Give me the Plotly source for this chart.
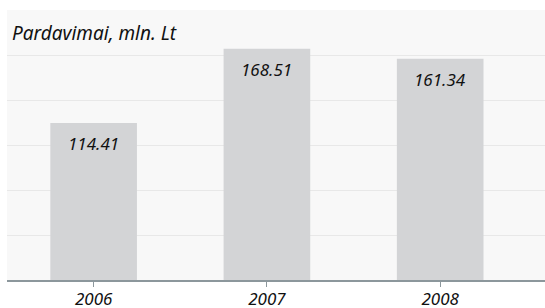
import plotly.graph_objects as go

years = ["2006", "2007", "2008"]
sales = [114.41, 168.51, 161.34]
labels = ["114.41", "168.51", "161.34"]
title_text = "Pardavimai, mln. Lt"

FONT = "Noto Sans"

fig = go.Figure()
fig.add_trace(go.Bar(
    x=years, y=sales, width=0.5,
    marker=dict(color="#d3d4d6", line=dict(width=0)),
    hoverinfo="skip",
))

for i, (v, t) in enumerate(zip(sales, labels)):
    fig.add_annotation(x=i, y=v, text=f"<i>{t}</i>", showarrow=False,
                       yanchor="top", yshift=-7,
                       font=dict(family=FONT, size=17, color="#111111"))

fig.add_annotation(x=0, xref="paper", y=1, yref="paper", xanchor="left", yanchor="top",
                   xshift=3, yshift=-8, showarrow=False,
                   text=f"<i>{title_text}</i>",
                   font=dict(family=FONT, size=19, color="#111111"))

fig.update_layout(
    width=545, height=308,
    margin=dict(l=7, r=0, t=10, b=28, autoexpand=False),
    paper_bgcolor="white",
    plot_bgcolor="#f8f8f8",
    showlegend=False,
    bargap=0.5,
    xaxis=dict(
        type="category", range=[-0.5, 2.605],
        automargin=False,
        showgrid=False, showline=True, linecolor="#8c979c", linewidth=2,
        ticks="outside", ticklen=5, tickcolor="#8c979c", tickwidth=1,
        ticklabelstandoff=-2,
        tickfont=dict(family=FONT, size=17, color="#111111"),
        tickprefix="<i>", ticksuffix="</i>",
        fixedrange=True,
    ),
    yaxis=dict(
        range=[0, 196.8], dtick=32.8, tick0=0,
        automargin=False,
        showgrid=True, gridcolor="#e8e8e8", gridwidth=1,
        showticklabels=False, zeroline=False, showline=False,
        fixedrange=True,
    ),
)

fig.write_html("out.html", config={"displayModeBar": False},
               post_script="document.body.style.margin='0';")
